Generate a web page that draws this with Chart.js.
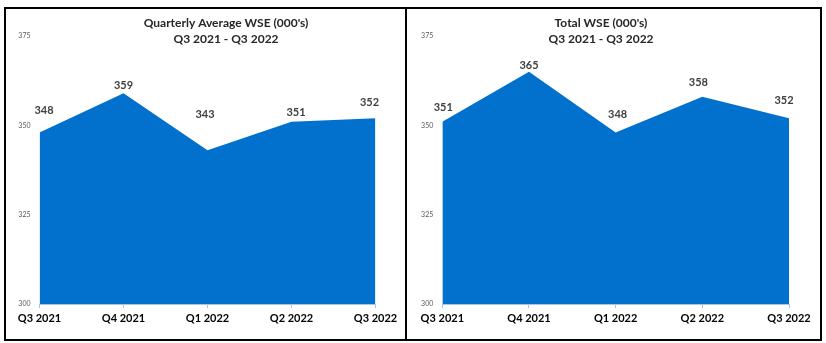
<!DOCTYPE html>
<html>
<head>
<meta charset="utf-8">
<script src="https://cdn.jsdelivr.net/npm/chart.js@4.4.0/dist/chart.umd.min.js"></script>
<style>
  body { margin: 0; background: #fff; width: 826px; height: 343px; overflow: hidden; position: relative; }
  .frame { position: absolute; box-sizing: border-box; border: 2px solid #000; }
  canvas { position: absolute; }
</style>
</head>
<body>
<div class="frame" style="left:4px; top:7px; width:818px; height:334px;"></div>
<div style="position:absolute; left:405px; top:7px; width:2px; height:334px; background:#000;"></div>
<canvas id="avg-chart" width="398" height="330" style="left:7px; top:9px;"></canvas>
<canvas id="total-chart" width="412" height="330" style="left:408px; top:9px;"></canvas>
<script>
// WSE by quarter, in thousands
const quarters = ['Q3 2021', 'Q4 2021', 'Q1 2022', 'Q2 2022', 'Q3 2022'];
const avgWse = [348, 359, 343, 351, 352];
const totalWse = [351, 365, 348, 358, 352];
const yTicks = [300, 325, 350, 375];

const FILL = '#0271ce';
const AXIS = '#a9c4e0';
const FONT = 'Lato, "Open Sans", sans-serif';

// Value labels above each point, nudged per point
const valueLabels = {
  id: 'valueLabels',
  afterDatasetsDraw(chart, args, opts) {
    const { ctx } = chart;
    const meta = chart.getDatasetMeta(0);
    const values = chart.data.datasets[0].data;
    ctx.save();
    ctx.font = `bold 11px ${FONT}`;
    ctx.fillStyle = '#404040';
    ctx.textAlign = 'center';
    ctx.textBaseline = 'middle';
    meta.data.forEach((pt, i) => {
      const [dx, dy] = opts.offsets[i] || [0, -10];
      ctx.fillText(String(values[i]), pt.x + dx, pt.y + dy);
    });
    ctx.restore();
  }
};

// Two-line heading
const heading = {
  id: 'heading',
  afterDraw(chart, args, opts) {
    const { ctx } = chart;
    ctx.save();
    ctx.font = `bold 12px ${FONT}`;
    ctx.fillStyle = '#262626';
    ctx.textAlign = 'center';
    ctx.textBaseline = 'middle';
    opts.lines.forEach((line, i) => {
      ctx.fillText(line, opts.x, opts.y + i * 16);
    });
    ctx.restore();
  }
};

function buildChart(id, values, opts) {
  return new Chart(document.getElementById(id), {
    type: 'line',
    data: {
      labels: quarters,
      datasets: [{
        data: values,
        backgroundColor: FILL,
        borderWidth: 0,
        pointRadius: 0,
        tension: 0,
        fill: 'start'
      }]
    },
    options: {
      responsive: false,
      animation: false,
      layout: { padding: { top: 27, right: opts.right, bottom: 0, left: 0 } },
      plugins: {
        legend: { display: false },
        tooltip: { enabled: false },
        heading: { lines: opts.title, x: opts.titleX, y: 14.5 },
        valueLabels: { offsets: opts.offsets }
      },
      scales: {
        x: {
          offset: false,
          border: { display: true, color: AXIS, width: 1 },
          grid: { drawOnChartArea: false, drawTicks: true, tickLength: 4, color: AXIS },
          ticks: {
            padding: 4,
            maxRotation: 0,
            color: '#000',
            font: { family: FONT, size: 11, weight: 'bold' }
          },
          afterFit: (scale) => { scale.height = 35; }
        },
        y: {
          min: yTicks[0],
          max: yTicks[yTicks.length - 1],
          border: { display: false },
          grid: { display: false, drawTicks: false },
          ticks: {
            stepSize: yTicks[1] - yTicks[0],
            padding: 9,
            color: '#595959',
            font: { family: FONT, size: 7 }
          },
          afterFit: (scale) => { scale.width = opts.yWidth; }
        }
      }
    },
    plugins: [valueLabels, heading]
  });
}

buildChart('avg-chart', avgWse, {
  title: ["Quarterly Average WSE (000's)", 'Q3 2021 - Q3 2022'],
  titleX: 219,
  right: 29.5,
  yWidth: 32.5,
  offsets: [[4.5, -22], [0, -8], [-2.5, -36], [4.5, -9.5], [-6, -15.5]]
});

buildChart('total-chart', totalWse, {
  title: ["Total WSE (000's)", 'Q3 2021 - Q3 2022'],
  titleX: 193,
  right: 31,
  yWidth: 34.3,
  offsets: [[1, -14], [0, -6], [2, -18], [-4, -14.5], [-5, -18]]
});
</script>
</body>
</html>
